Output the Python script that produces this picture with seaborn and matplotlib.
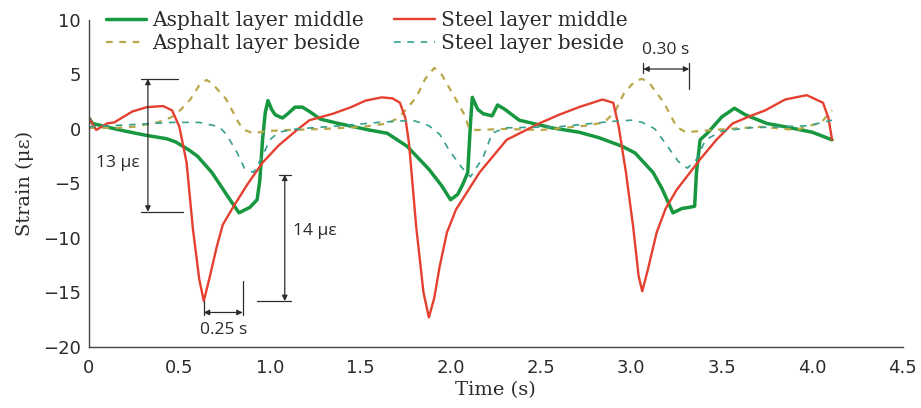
import matplotlib
matplotlib.use("Agg")
import matplotlib.pyplot as plt
import seaborn as sns

# values
steel_mid_t = [0.00, 0.04, 0.10, 0.14, 0.24, 0.32, 0.41, 0.46, 0.50, 0.54, 0.575, 0.61, 0.635, 0.665,
               0.707, 0.74, 0.80, 0.88, 0.96, 1.05, 1.15, 1.22, 1.35, 1.45, 1.53, 1.62, 1.68, 1.72,
               1.75, 1.77, 1.81, 1.85, 1.88, 1.91, 1.94, 1.98, 2.03, 2.16, 2.31, 2.49, 2.60, 2.71,
               2.84, 2.90, 2.93, 2.97, 3.01, 3.04, 3.06, 3.09, 3.14, 3.19, 3.25, 3.38, 3.47, 3.56,
               3.66, 3.74, 3.85, 3.97, 4.06, 4.09, 4.11]
steel_mid = [1.0, -0.1, 0.5, 0.6, 1.6, 2.0, 2.1, 1.7, 0.2, -3.1, -9.2, -13.8, -15.8, -13.8,
             -10.8, -8.8, -7.1, -5.0, -3.1, -1.5, -0.1, 0.8, 1.4, 2.0, 2.6, 2.9, 2.8, 2.4,
             1.0, -1.3, -9.0, -15.0, -17.3, -15.5, -12.6, -9.5, -7.4, -4.0, -1.0, 0.5, 1.3, 2.0,
             2.7, 2.4, 0.2, -4.0, -9.0, -13.5, -14.9, -13.0, -9.5, -7.3, -5.6, -2.8, -1.0, 0.5,
             1.2, 1.7, 2.7, 3.1, 2.4, 1.0, -1.0]

asphalt_mid_t = [0.00, 0.02, 0.12, 0.20, 0.32, 0.43, 0.48, 0.55, 0.60, 0.68, 0.74, 0.78, 0.83, 0.89,
                 0.93, 0.945, 0.96, 0.975, 0.99, 1.01, 1.03, 1.07, 1.10, 1.14, 1.18, 1.22, 1.28,
                 1.38, 1.55, 1.65, 1.76, 1.88, 1.95, 2.00, 2.04, 2.07, 2.095, 2.11, 2.12, 2.15,
                 2.18, 2.23, 2.26, 2.30, 2.38, 2.56, 2.71, 2.82, 2.95, 3.02, 3.12, 3.17, 3.23,
                 3.28, 3.32, 3.35, 3.36, 3.38, 3.42, 3.50, 3.57, 3.63, 3.75, 3.85, 4.00, 4.11]
asphalt_mid = [1.0, 0.5, 0.1, -0.2, -0.6, -0.9, -1.2, -1.9, -2.5, -4.0, -5.5, -6.5, -7.7, -7.2,
               -6.5, -4.7, -1.0, 1.5, 2.6, 1.8, 1.3, 1.0, 1.4, 2.0, 2.0, 1.6, 0.9,
               0.5, -0.1, -0.4, -1.6, -3.7, -5.2, -6.5, -6.0, -5.0, -4.0, 0.5, 2.9, 1.8,
               1.4, 1.2, 2.2, 1.8, 0.8, 0.1, -0.3, -0.8, -1.6, -2.2, -4.0, -5.5, -7.7,
               -7.3, -7.2, -7.1, -4.0, -1.0, -0.4, 1.1, 1.9, 1.3, 0.5, 0.2, -0.3, -1.0]

asphalt_side_t = [0.00, 0.15, 0.25, 0.38, 0.46, 0.51, 0.56, 0.61, 0.65, 0.68, 0.76, 0.83, 0.86, 0.91,
                  0.98, 1.10, 1.30, 1.52, 1.65, 1.71, 1.76, 1.81, 1.86, 1.91, 1.95, 2.03, 2.08,
                  2.10, 2.14, 2.30, 2.50, 2.75, 2.85, 2.91, 2.96, 3.02, 3.06, 3.10, 3.18, 3.25,
                  3.30, 3.45, 3.72, 3.91, 4.05, 4.11]
asphalt_side = [0.1, 0.1, 0.2, 0.6, 1.1, 1.8, 2.7, 4.0, 4.5, 4.2, 2.7, 0.5, -0.1, -0.4,
                -0.2, -0.1, 0.0, 0.2, 0.5, 1.0, 1.9, 2.9, 4.6, 5.6, 5.0, 2.7, 1.2,
                0.1, -0.1, 0.0, -0.1, 0.3, 0.6, 1.6, 3.3, 4.4, 4.6, 4.2, 2.4, 0.2,
                -0.3, -0.1, 0.2, -0.1, 0.6, 1.7]

steel_side_t = [0.00, 0.24, 0.46, 0.61, 0.72, 0.76, 0.82, 0.86, 0.91, 0.96, 1.00, 1.05, 1.15, 1.40,
                1.60, 1.79, 1.88, 1.94, 1.99, 2.06, 2.11, 2.18, 2.23, 2.30, 2.60, 2.90, 3.00,
                3.06, 3.13, 3.20, 3.26, 3.31, 3.36, 3.41, 3.50, 3.65, 3.83, 3.98, 4.11]
steel_side = [0.2, 0.4, 0.6, 0.6, 0.2, -0.5, -2.2, -3.6, -4.0, -2.5, -1.0, -0.3, 0.0, 0.3,
              0.6, 0.8, 0.3, -0.5, -1.9, -3.5, -4.4, -2.6, -0.4, 0.1, 0.2, 0.7, 0.8,
              0.6, 0.0, -1.6, -3.0, -3.6, -2.8, -1.0, -0.2, 0.1, 0.2, 0.3, 0.8]

x_ticks = [0, 0.5, 1.0, 1.5, 2.0, 2.5, 3.0, 3.5, 4.0, 4.5]
x_tick_labels = ["0", "0.5", "1.0", "1.5", "2.0", "2.5", "3.0", "3.5", "4.0", "4.5"]
y_ticks = [-20, -15, -10, -5, 0, 5, 10]
y_tick_labels = ["\u221220", "\u221215", "\u221210", "\u22125", "0", "5", "10"]

GREEN = "#17973f"
RED = "#e5402f"
OLIVE = "#b9a84a"
TEAL = "#35a08e"
INK = "#2b2b2b"

sns.set_style("white")
plt.rcParams["font.family"] = ["DejaVu Serif", "DejaVu Sans"]

fig = plt.figure(figsize=(9.21, 4.08), dpi=100)
ax = fig.add_axes([0.0966, 0.150, 0.8834, 0.801])

sns.lineplot(x=asphalt_mid_t, y=asphalt_mid, ax=ax, color=GREEN, lw=2.5,
             sort=False, estimator=None, label="Asphalt layer middle")
sns.lineplot(x=asphalt_side_t, y=asphalt_side, ax=ax, color=OLIVE, lw=1.6,
             sort=False, estimator=None, label="Asphalt layer beside")
sns.lineplot(x=steel_mid_t, y=steel_mid, ax=ax, color=RED, lw=1.7,
             sort=False, estimator=None, label="Steel layer middle")
sns.lineplot(x=steel_side_t, y=steel_side, ax=ax, color=TEAL, lw=1.2,
             sort=False, estimator=None, label="Steel layer beside")
ax.lines[1].set_linestyle((0, (3, 3)))
ax.lines[3].set_linestyle((0, (4, 4)))

ax.set_xlim(0, 4.5)
ax.set_ylim(-20, 10)
ax.set_xticks(x_ticks)
ax.set_yticks(y_ticks)
tick_font = dict(family=["DejaVu Sans"], size=13, color=INK)
ax.set_xticklabels(x_tick_labels, **tick_font)
ax.set_yticklabels(y_tick_labels, **tick_font)
ax.tick_params(direction="in", length=5, width=1, color="#444444", pad=6)
ax.tick_params(axis="x", pad=9)
for side in ["top", "right"]:
    ax.spines[side].set_visible(False)
for side in ["left", "bottom"]:
    ax.spines[side].set_color("#444444")
    ax.spines[side].set_linewidth(1.0)

ax.set_xlabel("Time (s)", fontsize=14, color=INK, labelpad=3)
ax.set_ylabel("Strain (\u03bc\u03b5)", fontsize=14, color=INK, labelpad=6)

leg = ax.legend(ncol=2, loc="upper left", bbox_to_anchor=(106 / 921, 1 - 11 / 408),
                bbox_transform=fig.transFigure, frameon=False, fontsize=14.5,
                handlelength=2.0, handletextpad=0.3, columnspacing=1.5,
                labelspacing=0.2, borderpad=0, borderaxespad=0)
for t in leg.get_texts():
    t.set_color(INK)

# annotation marks (dimension arrows)
both_kw = dict(arrowstyle="<|-|>", color=INK, lw=0.9, mutation_scale=8, shrinkA=0, shrinkB=0)
ann_font = dict(family=["Open Sans", "DejaVu Sans"], fontsize=12.5, color=INK)

# 13 με
ax.annotate("", xy=(0.326, 4.6), xytext=(0.326, -7.6), arrowprops=both_kw)
ax.plot([0.29, 0.49], [4.6, 4.6], color=INK, lw=0.9)
ax.plot([0.29, 0.52], [-7.6, -7.6], color=INK, lw=0.9)
ax.text(0.16, -3.1, "13 \u03bc\u03b5", ha="center", va="center", **ann_font)

# 14 με
ax.annotate("", xy=(1.083, -4.2), xytext=(1.083, -15.8), arrowprops=both_kw)
ax.plot([1.05, 1.12], [-4.2, -4.2], color=INK, lw=0.9)
ax.plot([0.93, 1.12], [-15.8, -15.8], color=INK, lw=0.9)
ax.text(1.25, -9.4, "14 \u03bc\u03b5", ha="center", va="center", **ann_font)

# 0.25 s
ax.plot([0.635, 0.635], [-15.8, -17.1], color=INK, lw=0.9)
ax.plot([0.85, 0.85], [-14.0, -17.1], color=INK, lw=0.9)
ax.annotate("", xy=(0.635, -16.85), xytext=(0.85, -16.85), arrowprops=both_kw)
ax.text(0.745, -18.5, "0.25 s", ha="center", va="center", **ann_font)

# 0.30 s
ax.plot([3.066, 3.066], [6.05, 5.15], color=INK, lw=0.9)
ax.plot([3.32, 3.32], [6.05, 3.65], color=INK, lw=0.9)
ax.annotate("", xy=(3.066, 5.5), xytext=(3.32, 5.5), arrowprops=both_kw)
ax.text(3.19, 7.2, "0.30 s", ha="center", va="center", **ann_font)

fig.savefig("out.png", dpi=100)
